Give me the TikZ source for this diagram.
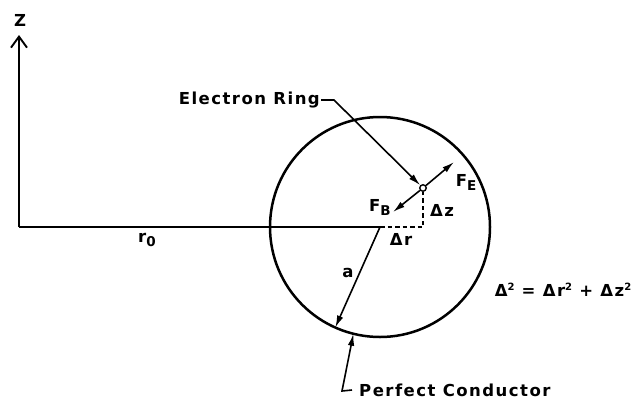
\documentclass[tikz,border=0pt]{standalone}
\usepackage{fontspec}
\setmainfont{DejaVu Sans}[LetterSpace=9]
\usetikzlibrary{arrows.meta}
\newcommand{\lsub}[1]{\raisebox{-4pt}{\fontsize{13.5}{13.5}\selectfont #1}}
\newcommand{\lsup}[1]{\raisebox{6.5pt}{\fontsize{10}{10}\selectfont #1}}
\begin{document}
\begin{tikzpicture}[x=1pt, y=-1pt,
  every node/.style={font=\bfseries\fontsize{16.5}{18}\selectfont, inner sep=1pt},
  ax/.style={line width=1.9pt},
  arr/.style={line width=1.6pt, -{Latex[length=12pt,width=6.5pt]}},
  dsh/.style={line width=1.6pt, dash pattern=on 4.5pt off 3pt},
  ringmark/.style={draw, circle, line width=1.4pt, minimum size=6.5pt, inner sep=0pt},
]
  \useasboundingbox (0,0) rectangle (639,402);
  \coordinate (orig) at (19,227);
  \coordinate (ztip) at (19,35);
  \coordinate (ctr) at (380,227);
  \draw[line width=2.5pt] (ctr) circle[radius=110pt];
  \draw[ax, -{Straight Barb[length=11pt,width=16pt]}] (orig) -- (ztip);
  \draw[ax] (orig) -- (ctr);
  \node (zlab) at (20,20) {Z};
  \node (rlab) at (147,240) {r\lsub{0}};

  % radius of the conductor
  \coordinate (rim) at ([shift={(114:110)}]ctr);
  \draw[arr] (ctr) -- (rim);
  \node (alab) at (348,273) {a};

  % ring displaced from the centre
  \coordinate (crn) at (423,227);
  \node[ringmark] (ring) at (423,188) {};
  \draw[dsh] (ctr) -- (crn) -- (ring);
  \coordinate (fe) at (454,162);
  \coordinate (fb) at (393,212);
  \draw[arr] (ring) -- (fe);
  \draw[arr] (ring) -- (fb);
  \node (felab) at (466,182) {F\lsub{E}};
  \node (fblab) at (380,207) {F\lsub{B}};
  \node (dzlab) at (442,210) {Δz};
  \node (drlab) at (401,239) {Δr};

  \node[anchor=east] (elab) at (321,100) {Electron Ring};
  \coordinate (ebend) at (334,100);
  \draw[arr] (elab.east) -- (ebend) -- (ring);

  \node[anchor=west] (plab) at (358,390) {Perfect Conductor};
  \coordinate (pbend) at (342,391);
  \coordinate (ptip) at ([shift={(104:110)}]ctr);
  \draw[arr] ([xshift=-6pt]plab.west) -- (pbend) -- (ptip);

  \node (eqn) at (563,290) {Δ\lsup{2} = Δr\lsup{2} + Δz\lsup{2}};
\end{tikzpicture}
\end{document}
